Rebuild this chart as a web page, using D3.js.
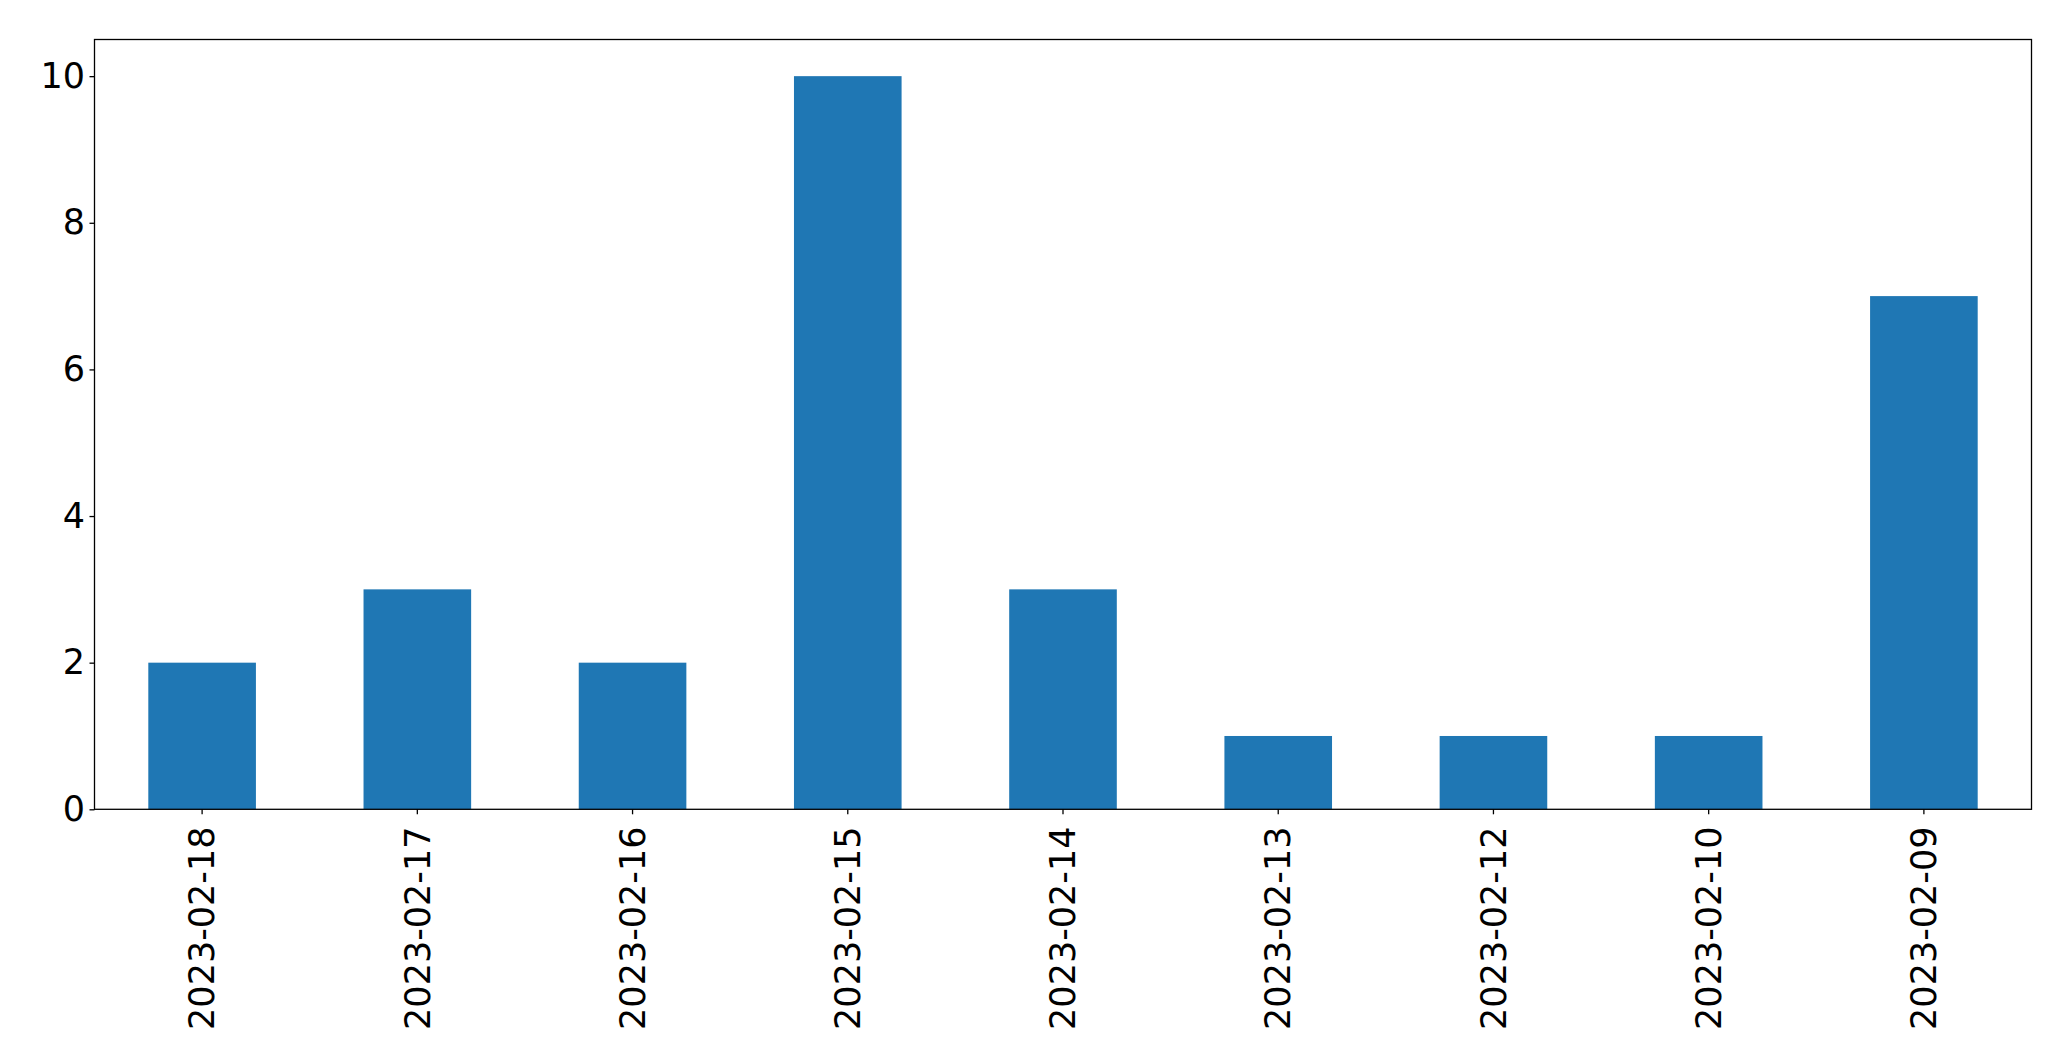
<!DOCTYPE html>
<html>
<head>
<meta charset="utf-8">
<script src="https://cdn.jsdelivr.net/npm/d3@7"></script>
<style>
  html, body { margin: 0; padding: 0; background: #fff; }
  svg { display: block; }
</style>
</head>
<body>
<script>
const categories = ["2023-02-18","2023-02-17","2023-02-16","2023-02-15","2023-02-14","2023-02-13","2023-02-12","2023-02-10","2023-02-09"];
const values = [2, 3, 2, 10, 3, 1, 1, 1, 7];
const yTicks = [0, 2, 4, 6, 8, 10];

const W = 2071, H = 1061;
const margin = {left: 94.5, right: W - 2031.5, top: 39.5, bottom: H - 809.3};
const fontFamily = "'DejaVu Sans', sans-serif";
const fontSize = 35;

const svg = d3.select("body").append("svg").attr("width", W).attr("height", H);

const x = d3.scaleBand().domain(categories)
  .range([margin.left, W - margin.right])
  .paddingInner(0.5).paddingOuter(0.25);
const y = d3.scaleLinear().domain([0, 10.5]).range([H - margin.bottom, margin.top]);

svg.append("g").selectAll("rect").data(categories).join("rect")
  .attr("x", d => x(d))
  .attr("width", x.bandwidth())
  .attr("y", (d, i) => y(values[i]))
  .attr("height", (d, i) => y(0) - y(values[i]))
  .attr("fill", "#1f77b4");

// frame
svg.append("rect")
  .attr("x", margin.left).attr("y", margin.top)
  .attr("width", W - margin.right - margin.left)
  .attr("height", H - margin.bottom - margin.top)
  .attr("fill", "none").attr("stroke", "#000").attr("stroke-width", 1.3);

const yAxis = svg.append("g")
  .attr("transform", `translate(${margin.left},0)`)
  .call(d3.axisLeft(y).tickValues(yTicks).tickFormat(d3.format("d")).tickSize(5).tickPadding(4.5));
yAxis.select(".domain").remove();
yAxis.selectAll("line").attr("stroke", "#000").attr("stroke-width", 1.3);
yAxis.selectAll("text").attr("fill", "#000")
  .style("font-family", fontFamily).style("font-size", fontSize + "px");

const xAxis = svg.append("g")
  .attr("transform", `translate(0,${H - margin.bottom})`)
  .call(d3.axisBottom(x).tickSize(5).tickPadding(4.5));
xAxis.select(".domain").remove();
xAxis.selectAll("line").attr("stroke", "#000").attr("stroke-width", 1.3);
xAxis.selectAll("text").attr("fill", "#000")
  .style("font-family", fontFamily).style("font-size", fontSize + "px")
  .attr("transform", "rotate(-90)")
  .attr("text-anchor", "end")
  .attr("x", -17.2).attr("y", 0).attr("dy", "0.35em");
</script>
</body>
</html>
